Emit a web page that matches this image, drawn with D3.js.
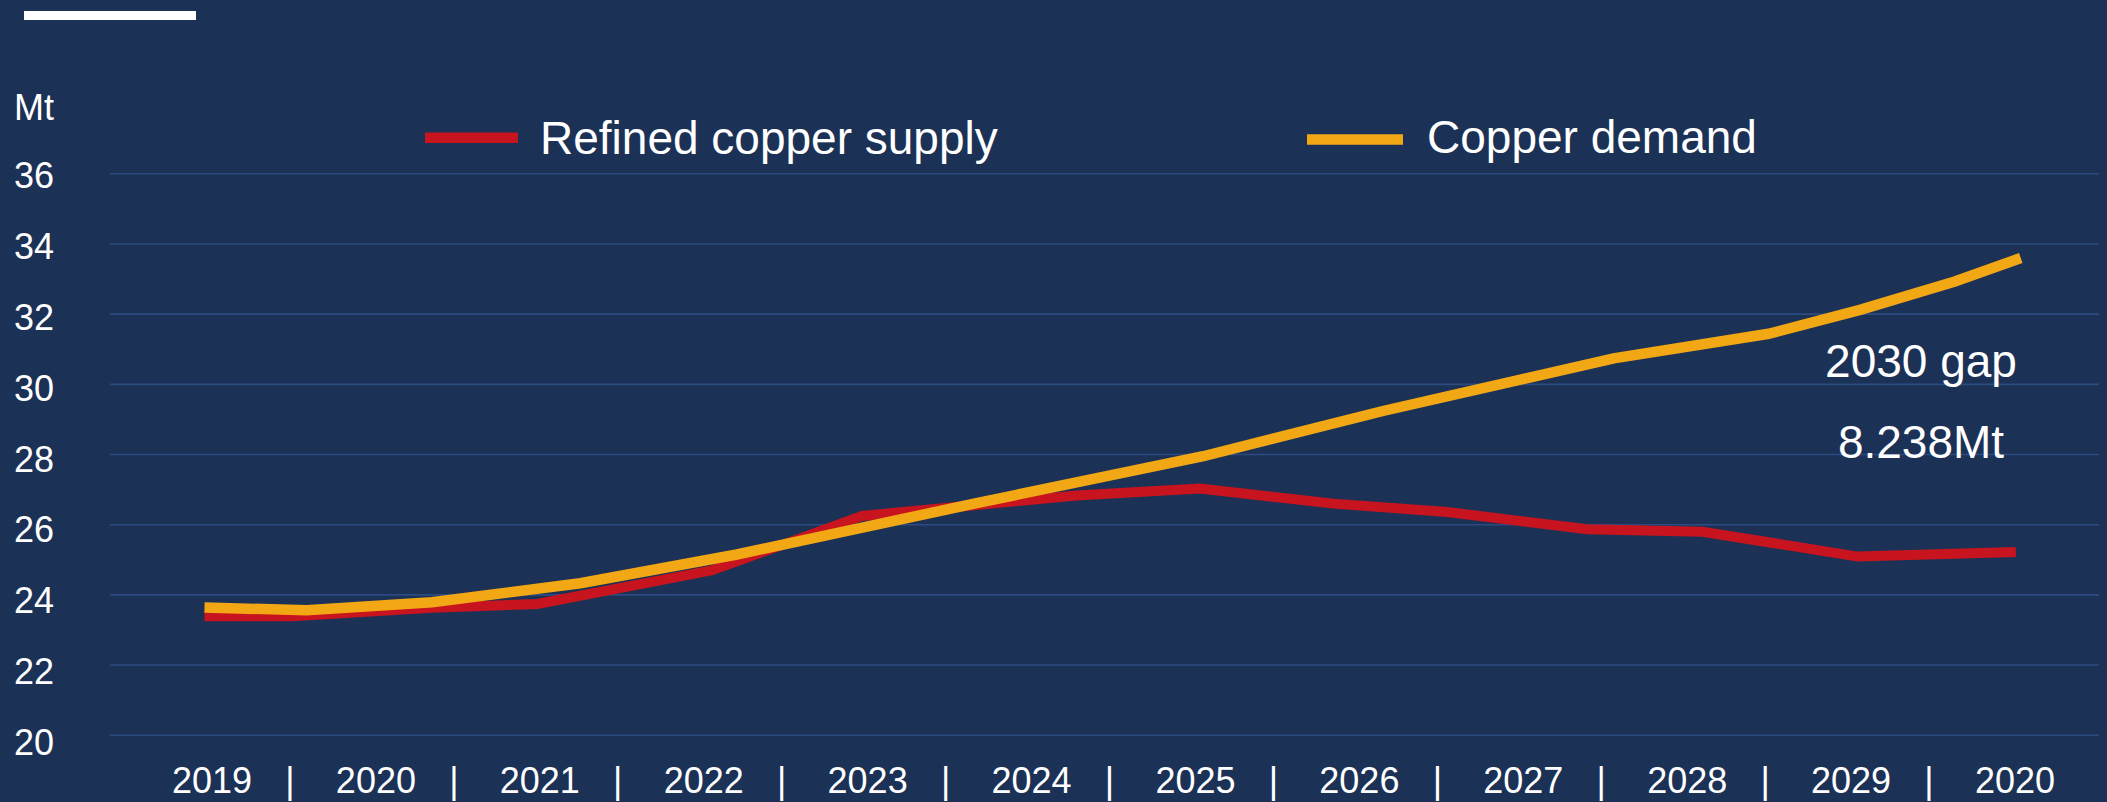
<!DOCTYPE html>
<html>
<head>
<meta charset="utf-8">
<script src="https://cdn.jsdelivr.net/npm/d3@7"></script>
<style>
  html, body { margin: 0; padding: 0; background: #1c3156; }
  svg { display: block; }
  text { font-family: "Liberation Sans", Arial, sans-serif; fill: #ffffff; }
</style>
</head>
<body>
<svg id="chart" width="2107" height="802"></svg>
<script>
// ---------------- data ----------------
const xLabels = ["2019", "2020", "2021", "2022", "2023", "2024", "2025", "2026", "2027", "2028", "2029", "2020"];
const yTicks = [20, 22, 24, 26, 28, 30, 32, 34, 36];
const yUnit = "Mt";

const seriesNames = ["Refined copper supply", "Copper demand"];
const seriesColors = ["#c8141e", "#f2a714"];

// Vertices (x as fractional year position)
const supplyYears  = [2019.00, 2019.53, 2020.38, 2021.02, 2022.08, 2022.99, 2024.29, 2025.04, 2025.85, 2026.54, 2027.39, 2028.09, 2029.03, 2029.99];
const supplyValues = [23.39,   23.39,   23.63,   23.74,   24.70,   26.25,   26.83,   27.03,   26.60,   26.36,   25.87,   25.80,   25.09,   25.22];

const demandYears  = [2019.00, 2019.62, 2020.38, 2021.28, 2022.23, 2023.67, 2025.06, 2026.15, 2027.55, 2028.49, 2029.05, 2029.62, 2030.02];
const demandValues = [23.64,   23.56,   23.79,   24.33,   25.15,   26.60,   27.95,   29.24,   30.74,   31.44,   32.13,   32.93,   33.60];

const gapTitle = "2030 gap";
const gapValue = "8.238Mt";

// ---------------- layout ----------------
const svg = d3.select("#chart");
const W = 2107, H = 802;

svg.append("rect").attr("width", W).attr("height", H).attr("fill", "#1c3156");

// top-left white bar
svg.append("rect").attr("x", 24).attr("y", 11).attr("width", 172).attr("height", 9).attr("fill", "#ffffff");

const x = d3.scaleLinear().domain([2019, 2030]).range([204.5, 2017.5]);
const y = d3.scaleLinear().domain([20, 36]).range([735.2, 173.8]);
const xl = d3.scalePoint().domain(d3.range(xLabels.length)).range([212, 2015]);

// gridlines
svg.append("g")
  .selectAll("line")
  .data(yTicks)
  .join("line")
  .attr("x1", 110).attr("x2", 2099)
  .attr("y1", d => y(d)).attr("y2", d => y(d))
  .attr("stroke", "#2b4b81")
  .attr("stroke-width", 1.6);

// y labels
svg.append("g")
  .selectAll("text")
  .data(yTicks)
  .join("text")
  .attr("x", 14)
  .attr("y", (d, i) => y(d) + 2 + (8 - i) * 0.6)
  .attr("dy", "0.35em")
  .attr("font-size", 36)
  .text(d => d);

svg.append("text").attr("x", 14).attr("y", 120).attr("font-size", 36).text(yUnit);

// x labels
svg.append("g")
  .selectAll("text")
  .data(xLabels)
  .join("text")
  .attr("x", (d, i) => xl(i))
  .attr("y", 793)
  .attr("text-anchor", "middle")
  .attr("font-size", 36)
  .text(d => d);

// separators
svg.append("g")
  .selectAll("text")
  .data(d3.range(xLabels.length - 1))
  .join("text")
  .attr("x", i => (xl(i) + xl(i + 1)) / 2 - 4)
  .attr("y", 793)
  .attr("text-anchor", "middle")
  .attr("font-size", 36)
  .text("|");

// lines
const line = d3.line().x(d => x(d[0])).y(d => y(d[1]));
const supply = supplyYears.map((v, i) => [v, supplyValues[i]]);
const demand = demandYears.map((v, i) => [v, demandValues[i]]);

svg.append("path")
  .datum(supply)
  .attr("d", line)
  .attr("fill", "none")
  .attr("stroke", seriesColors[0])
  .attr("stroke-width", 10)
  .attr("stroke-linejoin", "miter");

svg.append("path")
  .datum(demand)
  .attr("d", line)
  .attr("fill", "none")
  .attr("stroke", seriesColors[1])
  .attr("stroke-width", 10.5)
  .attr("stroke-linejoin", "miter");

// legend
const legendPos = [{lx1: 425, lx2: 518, ly: 137.7, tx: 540, ty: 154},
                   {lx1: 1307, lx2: 1403, ly: 139.5, tx: 1427, ty: 153}];
const lg = svg.append("g").selectAll("g").data(seriesNames).join("g");
lg.append("line")
  .attr("x1", (d, i) => legendPos[i].lx1).attr("x2", (d, i) => legendPos[i].lx2)
  .attr("y1", (d, i) => legendPos[i].ly).attr("y2", (d, i) => legendPos[i].ly)
  .attr("stroke", (d, i) => seriesColors[i])
  .attr("stroke-width", 10.5);
lg.append("text")
  .attr("x", (d, i) => legendPos[i].tx)
  .attr("y", (d, i) => legendPos[i].ty)
  .attr("font-size", 46)
  .text(d => d);

// gap annotation
svg.append("text").attr("x", 1921).attr("y", 377).attr("text-anchor", "middle").attr("font-size", 46).text(gapTitle);
svg.append("text").attr("x", 1921).attr("y", 458).attr("text-anchor", "middle").attr("font-size", 46).text(gapValue);
</script>
</body>
</html>
